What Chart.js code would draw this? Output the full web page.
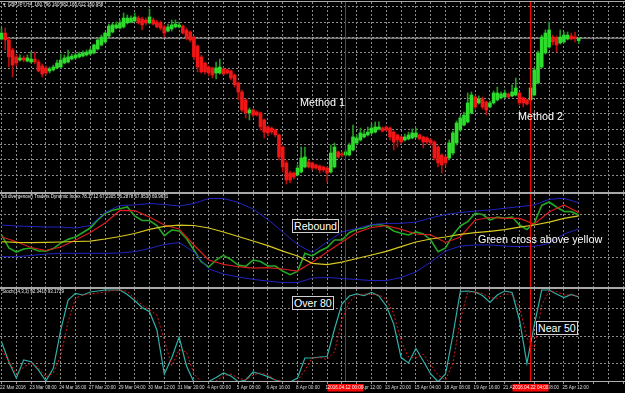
<!DOCTYPE html>
<html><head><meta charset="utf-8">
<script src="https://cdn.jsdelivr.net/npm/chart.js@4.4.0/dist/chart.umd.min.js"></script>
<style>
html,body{margin:0;padding:0;background:#000;}
#wrap{position:relative;width:625px;height:393px;overflow:hidden;background:#000;font-family:"Liberation Sans",Arial,sans-serif;}
canvas{position:absolute;left:0;}
.sep{position:absolute;left:0;width:625px;background:#a8a8a8;}
.note{position:absolute;color:#fff;font-size:10.8px;line-height:11px;white-space:nowrap;}
.box{border:1px solid #d0d0d0;background:#000;line-height:12px;padding:0 1px;font-size:10.6px;}
</style></head>
<body><div id="wrap">
<div class="sep" style="top:1px;height:1px"></div>
<canvas id="c1" width="625" height="190" style="top:2px"></canvas>
<div class="sep" style="top:192px;height:2px"></div>
<canvas id="c2" width="625" height="93" style="top:194px"></canvas>
<div class="sep" style="top:287px;height:2px"></div>
<canvas id="c3" width="625" height="104" style="top:289px"></canvas>
<div class="sep" style="top:381px;height:1px;background:#b0b0b0"></div>
<div class="note" style="left:300px;top:97px">Method 1</div>
<div class="note" style="left:518px;top:111px">Method 2</div>
<div class="note box" style="left:292px;top:219px">Rebound</div>
<div class="note" style="left:478px;top:233.5px">Green cross above yellow</div>
<div class="note box" style="left:292px;top:296px">Over 80</div>
<div class="note box" style="left:536px;top:321px">Near 50</div>
</div>
<script>
// ---------- DATA ----------
const priceTitle = "\u25BC GBPJPY,H4  160.796 160.982 160.612 160.958";
const tdiTitle = "tdi divergence() Traders Dynamic Index 78.1712 67.2305 56.2878 67.9530 69.9631";
const stochTitle = "Stoch(14,3,3) 92.3410 93.1729";

const tickLabels = ["22 Mar 2016","23 Mar 08:00","24 Mar 16:00","27 Mar 20:00","29 Mar 04:00","30 Mar 12:00",
  "31 Mar 20:00","4 Apr 00:00","5 Apr 08:00","6 Apr 16:00","8 Apr 00:00","11 Apr 04:00","12 Apr 12:00",
  "13 Apr 20:00","15 Apr 04:00","18 Apr 08:00","19 Apr 16:00","21 Apr 00:00","22 Apr 08:00","25 Apr 12:00"];
const gridBars = [0,4,8,12,16,20,24,28,32,36,40,44,48,52,56,60,64,68,72,76,80,84,88,92,96,100,104,108,112,116,120,124,128,132,136,140,144,148,152,156,160,164,168];
const vLineBars = [93, 143];
const vLineLabels = ["2016.04.12 00:00", "2016.04.22 04:00"];

const opens = [160.90,161.29,160.84,160.18,159.73,159.53,159.66,159.46,159.40,159.59,
159.40,159.14,159.01,158.81,158.88,159.01,159.07,159.33,159.40,159.59,
159.66,159.73,159.79,159.86,159.92,159.99,160.25,160.51,160.71,161.10,
161.36,161.62,161.62,161.69,161.95,162.01,162.08,162.27,162.21,162.14,
161.95,162.14,162.01,161.95,161.69,161.42,161.56,161.69,161.69,161.75,
161.49,161.36,161.03,160.44,159.73,159.33,159.07,159.01,158.68,158.68,
158.94,158.88,158.81,158.55,158.03,157.44,156.92,156.07,156.26,156.13,
156.07,155.61,155.15,155.08,154.95,154.63,153.84,152.80,152.14,152.14,
152.01,152.21,152.54,152.86,152.80,152.67,152.60,152.54,152.47,152.21,
152.54,153.52,153.39,153.32,153.32,153.65,154.10,154.30,154.50,154.63,
154.76,154.82,155.02,155.08,155.15,155.08,154.82,154.63,154.50,154.30,
154.37,154.43,154.50,154.63,154.50,154.43,154.30,154.17,153.84,153.32,
153.19,153.12,153.45,154.10,154.95,155.28,155.48,156.07,157.11,156.72,
156.98,156.78,156.46,156.72,156.92,157.05,157.11,157.31,157.18,157.24,
157.37,157.05,156.92,156.92,157.24,158.03,159.07,159.99,160.38,161.03,
160.97,160.64,160.71,160.90,161.10,161.03,160.796];
const highs = [161.62,161.62,160.97,160.31,159.86,159.86,159.79,159.86,160.05,160.05,
159.53,159.27,159.14,159.07,159.20,159.53,159.92,159.86,160.18,159.92,
159.99,160.05,160.12,160.18,160.31,160.57,160.97,161.16,161.36,161.88,
161.95,162.01,162.14,162.60,162.47,162.41,162.60,162.41,162.34,162.27,
162.86,162.27,162.14,162.08,161.82,161.88,162.14,162.14,162.01,161.82,
161.62,161.42,161.10,160.51,159.86,159.40,159.14,159.07,159.40,159.59,
159.01,158.94,158.88,158.61,158.09,157.57,156.98,156.39,156.33,156.20,
156.13,155.67,155.22,155.15,155.02,154.69,153.91,152.93,152.27,152.21,
152.67,153.84,153.84,152.99,152.86,152.73,152.67,152.60,152.54,153.97,
154.10,153.58,153.52,153.65,154.10,155.28,154.63,155.08,154.95,155.15,
155.35,155.48,155.48,155.15,155.22,155.15,154.89,154.69,154.56,154.69,
154.82,155.02,155.08,154.69,154.56,154.50,154.37,154.23,153.91,153.39,
153.26,154.30,154.89,155.54,155.87,156.13,157.37,157.44,157.18,157.18,
157.11,156.85,156.85,157.50,157.76,157.44,157.57,157.37,157.90,158.35,
157.44,157.11,156.98,157.76,159.01,160.12,161.16,161.49,162.01,161.16,
161.10,161.49,161.36,161.36,161.29,161.36,160.982];
const lows = [160.84,160.18,159.07,158.42,159.14,159.46,159.40,159.40,159.33,159.27,
158.75,158.42,158.55,158.68,158.81,158.94,159.01,159.27,159.33,159.53,
159.59,159.66,159.73,159.79,159.86,159.92,160.18,160.44,160.64,161.03,
161.29,161.56,161.56,161.62,161.88,161.95,162.01,161.88,161.49,161.82,
161.88,161.82,161.62,161.49,161.03,161.36,161.42,161.62,161.62,161.23,
160.84,160.71,159.53,158.75,158.68,158.61,158.48,158.35,158.29,158.61,
158.55,158.61,158.22,157.76,156.92,156.13,155.74,155.61,155.80,155.87,
154.95,154.43,154.56,154.69,154.50,152.99,152.21,151.42,151.49,151.75,
151.95,152.14,152.47,152.47,152.34,152.40,152.14,152.21,151.55,152.14,
152.47,153.12,153.19,153.26,153.26,153.58,154.04,154.23,154.43,154.56,
154.69,154.76,154.95,154.82,154.89,154.30,153.65,153.84,154.04,154.23,
154.30,154.37,154.43,154.30,153.78,154.04,153.97,152.99,152.54,152.14,
152.60,152.99,153.32,153.97,154.89,155.22,155.41,156.00,156.33,156.65,
156.33,155.93,156.39,156.65,156.85,156.98,157.05,157.05,157.11,157.18,
156.59,156.46,156.59,156.85,157.18,157.96,159.01,159.92,160.31,160.51,
160.05,160.57,160.64,160.84,160.84,160.71,160.612];
const closes = [161.29,160.84,159.73,159.20,159.33,159.66,159.53,159.66,159.59,159.40,
158.81,158.61,158.68,158.94,159.07,159.33,159.53,159.66,159.73,159.79,
159.86,159.92,159.99,160.05,160.18,160.51,160.84,161.03,161.29,161.75,
161.82,161.82,161.95,162.27,162.27,162.27,162.34,161.95,161.82,161.95,
162.34,161.88,161.69,161.62,161.29,161.69,161.82,161.88,161.82,161.29,
161.03,160.84,159.73,159.07,158.75,158.75,158.68,158.55,159.01,159.07,
158.61,158.68,158.35,157.90,157.44,156.26,156.07,156.26,155.93,155.93,
155.15,154.82,154.76,154.82,154.63,153.19,152.54,151.69,151.69,151.88,
152.47,153.12,153.19,152.54,152.47,152.47,152.34,152.34,152.14,153.45,
153.84,153.19,153.32,153.52,153.97,154.50,154.43,154.76,154.69,154.82,
155.08,155.15,155.15,154.89,154.95,154.50,154.17,154.30,154.17,154.50,
154.63,154.76,154.76,154.37,154.17,154.17,154.10,153.12,152.80,152.67,
152.80,154.10,154.76,155.41,155.74,155.93,156.72,157.24,156.46,156.98,
156.46,156.26,156.72,157.37,157.37,157.31,157.37,157.11,157.44,157.70,
156.72,156.72,156.65,157.70,158.88,159.99,161.03,161.29,161.49,160.71,
160.51,161.03,161.16,161.16,160.90,160.97,160.958];
const priceGrid = [152,153,154,155,156,157,158,159,160,161,162,163];

const tdiBars = [0,4,8,12,16,20,24,28,32,36,40,44,48,52,56,60,64,68,72,76,80,84,88,92,96,100,104,108,112,116,120,124,128,132,136,140,144,148,152,156];
const tdiUpper = [59.6,58.8,58.4,57.9,57.9,57.1,59.2,70.1,76.0,76.4,77.6,76.8,75.5,77.6,81.8,81.8,78.5,73.0,64.2,53.8,43.3,36.5,45.4,53.8,56.7,60.0,61.0,61.0,62.1,65.5,68.4,70.1,71.3,72.2,73.6,75.0,76.4,81.1,82.0,78.17];
const tdiLower = [33.1,33.1,34.1,35.3,35.9,35.9,35.9,35.9,36.2,37.3,40.0,43.3,45.0,37.0,22.8,18.6,16.1,14.1,12.7,11.4,11.4,15.2,15.7,14.8,14.0,13.1,13.1,15.7,20.3,28.6,37.8,42.0,42.9,42.9,42.0,41.5,41.8,44.1,52.1,56.29];
const tdiBase = [45.6,45.0,44.8,45.0,45.4,45.8,46.2,47.9,50.0,52.5,55.9,58.4,59.6,59.2,57.1,53.8,50.0,46.2,42.4,37.8,33.7,27.5,26.5,28.6,31.6,34.5,37.6,41.5,45.4,47.9,49.6,51.7,53.3,54.3,55.7,57.9,59.6,62.1,65.2,67.23];
const tdiSignal = [49.8,45.6,40.8,38.3,41.2,47.1,53.3,61.3,71.8,71.6,66.3,59.6,56.3,42.9,30.3,26.6,24.7,23.6,24.0,22.8,21.1,28.5,37.0,45.4,53.3,57.5,59.2,55.9,52.1,51.3,45.0,49.6,63.8,65.9,65.1,65.1,60.5,70.5,76.4,69.96];
const halfBars = [0,2,4,6,8,10,12,14,16,18,20,22,24,26,28,30,32,34,36,38,40,42,44,46,48,50,52,54,56,58,60,62,64,66,68,70,72,74,76,78,80,82,84,86,88,90,92,94,96,98,100,102,104,106,108,110,112,114,116,118,120,122,124,126,128,130,132,134,136,138,140,142,144,146,148,150,152,154,156];
const tdiRsi = [51.3,40.4,37.0,39.5,40.4,37.8,37.8,39.9,44.5,47.6,49.6,53.3,57.1,63.8,69.4,71.9,73.3,74.7,67.2,63.4,63.4,59.2,50.8,55.4,54.6,48.3,38.7,28.9,24.4,30.3,34.2,30.7,26.1,25.0,30.3,29.1,25.3,25.3,21.1,18.0,20.7,35.9,33.7,37.8,40.8,47.1,47.1,53.2,56.0,57.1,59.6,60.0,58.8,54.6,52.7,51.3,53.8,52.1,47.1,37.3,40.4,51.3,58.8,62.4,69.4,68.4,63.8,66.3,65.2,66.3,59.6,55.9,61.0,76.0,78.9,74.7,70.9,70.8,67.95];
const tdiLevels = [32, 68];

const stochMain = [43.8,21.7,4.3,23.9,22.1,13.0,1.1,14.9,56.5,89.1,96.4,94.6,97.8,98.9,100,100,100,95.1,88.6,81.0,76.4,56.5,8.7,26.1,48.9,17.4,0,0,0.5,4.9,9.8,6.5,0.3,2.2,10.9,8.7,5.8,2.2,0.3,0,4.3,26.1,26.1,27.2,27.7,57.6,84.8,93.5,95.7,94.0,97.5,93.5,82.6,63.0,26.6,20.7,36.4,22.8,8.7,0.3,8.7,51.1,98.4,98.9,97.8,94.0,86.4,94.6,98.9,97.3,67.4,20.3,62.0,100,100,95.7,91.8,95.1,92.34];
const stochSignal = [34.8,22.8,8.7,16.3,20.7,15.2,5.4,9.8,28.3,65.5,91.0,94.6,95.7,96.7,97.8,99.5,100,98.4,91.0,83.7,78.3,72.8,45.7,17.4,34.8,32.6,8.7,0,0,1.1,6.5,8.7,4.3,2.2,7.6,9.8,7.6,2.2,0,0,1.1,13.0,26.1,26.6,24.5,32.6,67.4,87.0,94.6,95.7,95.1,94.6,90.2,73.9,44.6,27.2,26.1,30.4,18.5,7.6,2.2,20.7,67.4,97.8,97.8,96.2,91.8,91.0,95.7,95.1,81.5,47.8,36.0,83.7,98.9,98.4,94.6,94.6,93.17];
const stochLevels = [20, 50, 80];

// ---------- CHART SETUP ----------
const X_MIN = -0.405, X_MAX = 168.51;
const GRID = '#8c8c8c';
const FONT = '"Liberation Sans", Arial, sans-serif';

function xAxis(labels){
  return {
    type:'linear', min:X_MIN, max:X_MAX, offset:false,
    afterBuildTicks(s){ s.ticks = gridBars.map(v => ({value:v})); },
    afterFit(s){ s.height = labels ? 11 : 0; },
    grid:{ color:GRID, lineWidth:1, offset:false, drawTicks:labels, tickLength:2, tickColor:'#9a9a9a', tickBorderDash:[] },
    border:{ display:false, dash:[2,2] },
    ticks:{ display:labels, autoSkip:false, maxRotation:0, minRotation:0, align:'start', padding:1, labelOffset:-1.5,
      color:'#dcdcdc', font:{family:FONT, size:4.6},
      callback(v){ return (v % 8 === 0 && tickLabels[v/8]) ? tickLabels[v/8] : ''; } }
  };
}
function yAxis(min, max, ticks){
  return {
    type:'linear', min, max,
    afterBuildTicks(s){ s.ticks = ticks.map(v => ({value:v})); },
    afterFit(s){ s.width = 0; },
    ticks:{ display:false },
    grid:{ color:GRID, lineWidth:1, drawTicks:false },
    border:{ display:false, dash:[2,2] }
  };
}
function titlePlugin(text){
  return { id:'ptitle', afterDraw(c){
    const ctx = c.ctx; ctx.save();
    ctx.font = '4.5px ' + FONT; ctx.fillStyle = '#f0f0f0'; ctx.textBaseline = 'middle';
    ctx.fillText(text, 2, 3.2); ctx.restore(); } };
}
// vertical time markers, placed through the x scale and snapped to whole pixels
const vLinePlugin = { id:'vlines', afterDatasetsDraw(c){
  const ctx = c.ctx, xs = c.scales.x, a = c.chartArea;
  ctx.save(); ctx.strokeStyle = '#ff0000'; ctx.lineWidth = 1;
  vLineBars.forEach(v => {
    const x = Math.floor(xs.getPixelForValue(v)) + 0.5;
    ctx.beginPath(); ctx.moveTo(x, a.top); ctx.lineTo(x, a.bottom); ctx.stroke();
  });
  ctx.restore(); } };
const common = { responsive:false, animation:false, devicePixelRatio:1, events:[], layout:{padding:0},
  plugins:{ legend:{display:false}, tooltip:{enabled:false} } };

// Panel 1: candles
const P_MIN = 150.90, P_MAX = 163.32;
const isBull = closes.map((c,i) => c >= opens[i]);
const last = closes.length - 1;
new Chart(document.getElementById('c1'), {
  type:'bar',
  data:{ datasets:[
    { type:'line', data:[{x:X_MIN,y:closes[last]},{x:X_MAX,y:closes[last]}], borderColor:'#b4b4b4', borderWidth:1, pointRadius:0, order:5 },
    { data: highs.map((h,i) => ({x:i, y:[lows[i], h]})), backgroundColor: isBull.map(b => b ? '#229a22' : '#b80e0e'),
      barThickness:1, grouped:false, borderWidth:0, order:3 },
    { data: opens.map((o,i) => ({x:i, y:[o, closes[i]]})), backgroundColor: isBull.map(b => b ? '#2edc2e' : '#f01616'),
      barThickness:3, grouped:false, borderWidth:0, minBarLength:1, order:2 }
  ]},
  options:{ ...common, scales:{ x:xAxis(false), y:yAxis(P_MIN, P_MAX, priceGrid) } },
  plugins:[ titlePlugin(priceTitle), vLinePlugin ]
});

// Panel 2: TDI
const T_MIN = 7.72, T_MAX = 85.58;
const pts = (xs, ys) => xs.map((x,k) => ({x, y:ys[k]}));
const lineDs = (data, color, w, extra) => Object.assign({ data, borderColor:color, borderWidth:w, pointRadius:0, tension:0, fill:false }, extra||{});
new Chart(document.getElementById('c2'), {
  type:'line',
  data:{ datasets:[
    lineDs(pts(tdiBars, tdiUpper), '#2222c4', 1),
    lineDs(pts(tdiBars, tdiLower), '#2222c4', 1),
    lineDs(pts(tdiBars, tdiBase), '#d6c81e', 1.2),
    lineDs(pts(tdiBars, tdiSignal), '#d81c1c', 1.2),
    lineDs(pts(halfBars, tdiRsi), '#22a822', 1.6)
  ]},
  options:{ ...common, scales:{ x:xAxis(false), y:yAxis(T_MIN, T_MAX, tdiLevels) } },
  plugins:[ titlePlugin(tdiTitle), vLinePlugin ]
});

// Panel 3: Stochastic
const S_MIN = 0, S_MAX = 101.09;
new Chart(document.getElementById('c3'), {
  type:'line',
  data:{ datasets:[
    lineDs(pts(halfBars, stochSignal), '#e01818', 1, { borderDash:[2,2] }),
    lineDs(pts(halfBars, stochMain), '#2fb0a8', 1.2)
  ]},
  options:{ ...common, scales:{ x:xAxis(true), y:yAxis(S_MIN, S_MAX, stochLevels) } },
  plugins:[ titlePlugin(stochTitle), vLinePlugin, { id:'vbox', afterDraw(c){
    const ctx = c.ctx, xs = c.scales.x, b = c.chartArea.bottom;
    ctx.save(); ctx.font = '4.6px ' + FONT; ctx.textAlign = 'center'; ctx.textBaseline = 'middle';
    vLineBars.forEach((v,k) => {
      const x = Math.floor(xs.getPixelForValue(v)) + 0.5;
      ctx.fillStyle = '#ff0000'; ctx.fillRect(x - 18, b + 2, 36, 7.5);
      ctx.fillStyle = '#ffffff'; ctx.fillText(vLineLabels[k], x, b + 5.8);
    });
    ctx.restore(); } } ]
});
</script>
</body></html>
